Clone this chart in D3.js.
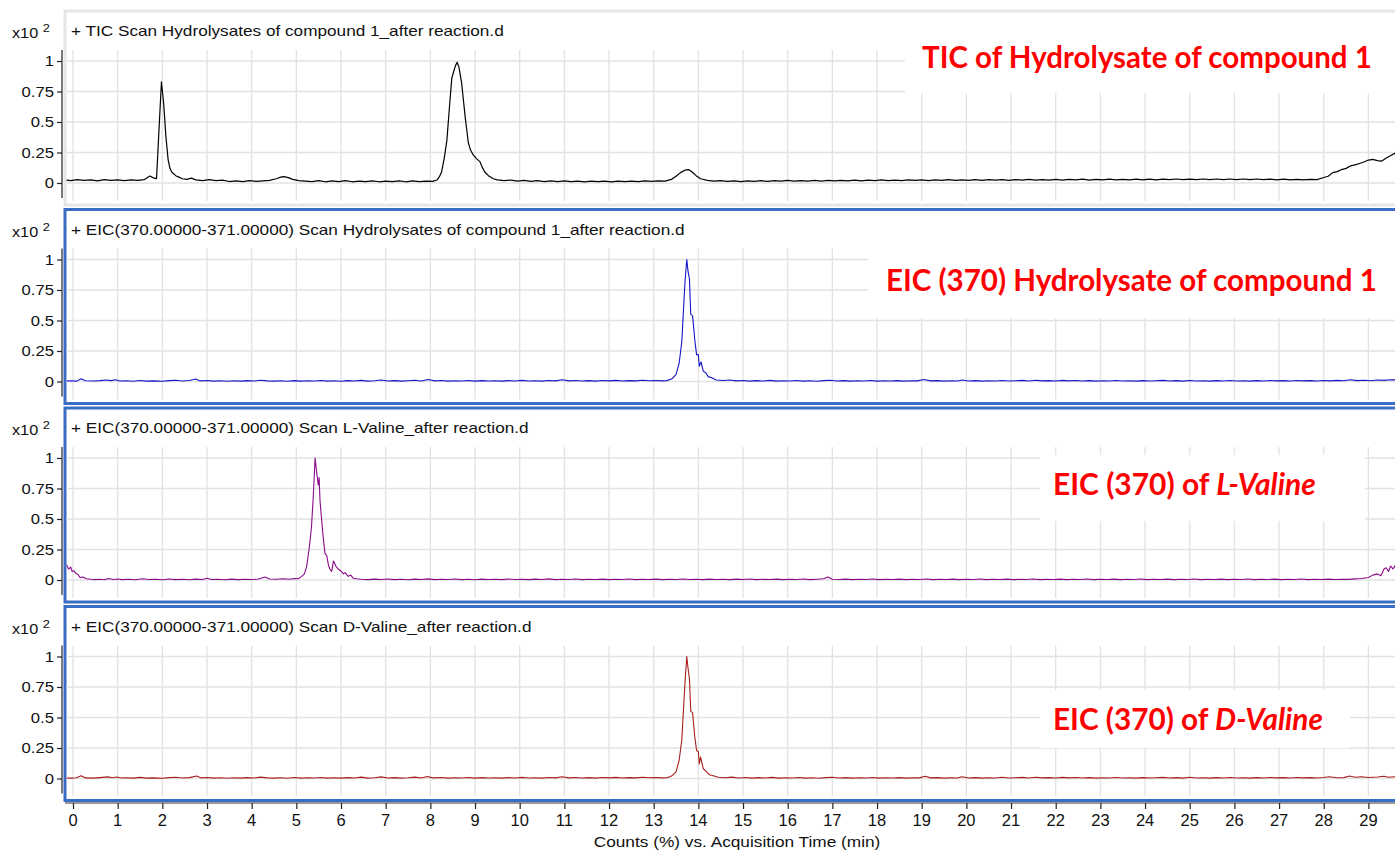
<!DOCTYPE html>
<html><head><meta charset="utf-8">
<script src="https://cdn.jsdelivr.net/npm/d3@7"></script>
<style>body{margin:0;background:#fff}svg{display:block}</style>
</head><body><svg id="c" width="1395" height="852"></svg>
<script>
const panelTitles = [
  "+ TIC Scan Hydrolysates of compound 1_after reaction.d",
  "+ EIC(370.00000-371.00000) Scan Hydrolysates of compound 1_after reaction.d",
  "+ EIC(370.00000-371.00000) Scan L-Valine_after reaction.d",
  "+ EIC(370.00000-371.00000) Scan D-Valine_after reaction.d"
];
const annotationMain = ["TIC of Hydrolysate of compound 1", "EIC (370) Hydrolysate of compound 1", "EIC (370) of ", "EIC (370) of "];
const annotationItalic = ["", "", "L-Valine", "D-Valine"];
const seriesColors = ["#000000", "#1414c8", "#8a0a8a", "#a81c1c"];
const xTickValues = [0,1,2,3,4,5,6,7,8,9,10,11,12,13,14,15,16,17,18,19,20,21,22,23,24,25,26,27,28,29];
const yTickValues = [0, 0.25, 0.5, 0.75, 1];
const yTickLabels = ["0", "0.25", "0.5", "0.75", "1"];
const xAxisTitle = "Counts (%) vs. Acquisition Time (min)";
const yScaleLabel = "x10";
const yScaleExp = "2";

const ticSeries = [[-0.18,0.024],[-0.05,0.02],[0.1,0.027],[0.25,0.021],[0.4,0.026],[0.55,0.018],[0.7,0.027],[0.85,0.022],[1.0,0.026],[1.15,0.019],[1.3,0.025],[1.45,0.021],[1.6,0.028],[1.72,0.057],[1.8,0.042],[1.87,0.036],[1.92,0.4],[1.98,0.83],[2.03,0.65],[2.08,0.38],[2.13,0.19],[2.17,0.12],[2.21,0.09],[2.3,0.06],[2.37,0.048],[2.45,0.035],[2.55,0.03],[2.65,0.04],[2.75,0.026],[2.9,0.02],[3.05,0.028],[3.2,0.02],[3.35,0.024],[3.5,0.012],[3.65,0.018],[3.8,0.011],[3.95,0.019],[4.1,0.013],[4.25,0.018],[4.4,0.022],[4.55,0.035],[4.65,0.048],[4.72,0.052],[4.82,0.044],[4.92,0.03],[5.05,0.02],[5.2,0.016],[5.35,0.012],[5.5,0.019],[5.65,0.01],[5.8,0.017],[5.95,0.011],[6.1,0.019],[6.25,0.01],[6.4,0.016],[6.55,0.011],[6.7,0.018],[6.85,0.01],[7.0,0.016],[7.15,0.011],[7.3,0.018],[7.45,0.01],[7.6,0.017],[7.75,0.011],[7.9,0.016],[8.05,0.013],[8.15,0.025],[8.2,0.05],[8.25,0.09],[8.31,0.2],[8.37,0.35],[8.44,0.68],[8.48,0.86],[8.52,0.91],[8.56,0.96],[8.6,0.99],[8.64,0.95],[8.7,0.82],[8.74,0.68],[8.78,0.54],[8.82,0.42],[8.85,0.33],[8.9,0.27],[8.96,0.23],[9.03,0.2],[9.11,0.175],[9.16,0.13],[9.22,0.09],[9.3,0.06],[9.41,0.035],[9.5,0.026],[9.65,0.02],[9.8,0.024],[9.95,0.016],[10.1,0.021],[10.25,0.013],[10.4,0.019],[10.55,0.012],[10.7,0.018],[10.85,0.011],[11.0,0.017],[11.15,0.012],[11.3,0.016],[11.45,0.01],[11.6,0.015],[11.75,0.011],[11.9,0.016],[12.05,0.01],[12.2,0.015],[12.35,0.011],[12.5,0.016],[12.65,0.012],[12.8,0.017],[12.95,0.013],[13.1,0.018],[13.25,0.015],[13.4,0.03],[13.5,0.055],[13.6,0.085],[13.7,0.105],[13.78,0.11],[13.86,0.09],[13.95,0.06],[14.05,0.035],[14.2,0.022],[14.35,0.016],[14.5,0.02],[14.65,0.013],[14.8,0.018],[14.95,0.012],[15.1,0.017],[15.25,0.013],[15.4,0.019],[15.55,0.014],[15.7,0.02],[15.85,0.015],[16.0,0.021],[16.15,0.016],[16.3,0.02],[16.45,0.015],[16.6,0.021],[16.75,0.016],[16.9,0.022],[17.05,0.017],[17.2,0.022],[17.35,0.018],[17.5,0.023],[17.65,0.018],[17.8,0.024],[17.95,0.019],[18.1,0.025],[18.25,0.019],[18.4,0.024],[18.55,0.02],[18.7,0.026],[18.85,0.021],[19.0,0.025],[19.15,0.02],[19.3,0.026],[19.45,0.021],[19.6,0.027],[19.75,0.021],[19.9,0.026],[20.05,0.022],[20.2,0.027],[20.35,0.021],[20.5,0.027],[20.65,0.023],[20.8,0.028],[20.95,0.022],[21.1,0.028],[21.25,0.023],[21.4,0.029],[21.55,0.023],[21.7,0.028],[21.85,0.024],[22.0,0.03],[22.15,0.024],[22.3,0.029],[22.45,0.025],[22.6,0.031],[22.75,0.024],[22.9,0.03],[23.05,0.026],[23.2,0.031],[23.35,0.025],[23.5,0.03],[23.65,0.026],[23.8,0.032],[23.95,0.026],[24.1,0.031],[24.25,0.026],[24.4,0.032],[24.55,0.027],[24.7,0.033],[24.85,0.027],[25.0,0.032],[25.15,0.027],[25.3,0.033],[25.45,0.028],[25.6,0.033],[25.75,0.027],[25.9,0.033],[26.05,0.028],[26.2,0.033],[26.35,0.027],[26.5,0.033],[26.65,0.028],[26.8,0.032],[26.95,0.026],[27.1,0.031],[27.25,0.026],[27.4,0.03],[27.55,0.025],[27.7,0.03],[27.85,0.028],[28.0,0.045],[28.1,0.055],[28.2,0.085],[28.3,0.093],[28.4,0.11],[28.5,0.12],[28.6,0.14],[28.7,0.148],[28.8,0.16],[28.9,0.172],[29.0,0.188],[29.1,0.194],[29.2,0.183],[29.3,0.18],[29.4,0.205],[29.5,0.225],[29.6,0.245]];

const eicHydSeries = [[-0.18,0.004],[-0.05,0.006],[0.08,0.003],[0.18,0.022],[0.28,0.006],[0.45,0.004],[0.6,0.007],[0.75,0.012],[0.85,0.007],[0.95,0.014],[1.05,0.004],[1.2,0.006],[1.35,0.002],[1.5,0.008],[1.65,0.003],[1.8,0.005],[2.0,0.002],[2.15,0.007],[2.3,0.01],[2.45,0.004],[2.6,0.008],[2.75,0.02],[2.85,0.005],[3.0,0.008],[3.15,0.003],[3.3,0.006],[3.45,0.002],[3.6,0.006],[3.75,0.003],[3.9,0.007],[4.05,0.004],[4.2,0.01],[4.35,0.005],[4.5,0.003],[4.65,0.006],[4.8,0.002],[4.95,0.007],[5.1,0.003],[5.25,0.006],[5.4,0.004],[5.55,0.008],[5.7,0.003],[5.85,0.006],[6.0,0.002],[6.15,0.007],[6.3,0.004],[6.45,0.009],[6.6,0.003],[6.75,0.006],[6.9,0.012],[7.05,0.004],[7.2,0.007],[7.35,0.003],[7.5,0.006],[7.65,0.01],[7.8,0.004],[7.95,0.016],[8.1,0.005],[8.25,0.008],[8.4,0.003],[8.55,0.006],[8.7,0.004],[8.85,0.008],[9.0,0.003],[9.15,0.007],[9.3,0.004],[9.45,0.006],[9.6,0.003],[9.75,0.007],[9.9,0.004],[10.05,0.009],[10.2,0.004],[10.35,0.006],[10.5,0.003],[10.65,0.008],[10.8,0.005],[10.95,0.015],[11.1,0.005],[11.25,0.008],[11.4,0.004],[11.55,0.007],[11.7,0.003],[11.85,0.008],[12.0,0.005],[12.15,0.009],[12.3,0.004],[12.45,0.007],[12.6,0.005],[12.75,0.01],[12.9,0.006],[13.05,0.008],[13.2,0.005],[13.29,0.007],[13.4,0.02],[13.5,0.057],[13.57,0.15],[13.63,0.33],[13.66,0.54],[13.7,0.81],[13.74,1.0],[13.77,0.9],[13.8,0.84],[13.83,0.55],[13.87,0.54],[13.92,0.34],[13.96,0.22],[14.0,0.22],[14.02,0.125],[14.06,0.16],[14.11,0.085],[14.17,0.07],[14.22,0.04],[14.3,0.03],[14.4,0.012],[14.55,0.008],[14.7,0.012],[14.85,0.005],[15.0,0.008],[15.15,0.003],[15.3,0.007],[15.45,0.004],[15.6,0.009],[15.75,0.003],[15.9,0.006],[16.05,0.004],[16.2,0.008],[16.35,0.003],[16.5,0.006],[16.65,0.002],[16.8,0.007],[16.95,0.01],[17.1,0.004],[17.25,0.007],[17.4,0.003],[17.55,0.006],[17.7,0.004],[17.85,0.008],[18.0,0.003],[18.15,0.006],[18.3,0.004],[18.45,0.007],[18.6,0.003],[18.75,0.006],[18.9,0.005],[19.05,0.016],[19.2,0.005],[19.35,0.007],[19.5,0.003],[19.65,0.006],[19.8,0.004],[19.9,0.012],[20.05,0.004],[20.2,0.007],[20.35,0.003],[20.5,0.006],[20.65,0.004],[20.8,0.008],[20.95,0.004],[21.1,0.006],[21.25,0.009],[21.4,0.004],[21.55,0.01],[21.7,0.005],[21.85,0.007],[22.0,0.004],[22.15,0.009],[22.3,0.005],[22.45,0.008],[22.6,0.004],[22.75,0.007],[22.9,0.003],[23.05,0.006],[23.2,0.004],[23.35,0.008],[23.5,0.004],[23.65,0.006],[23.8,0.003],[23.95,0.007],[24.1,0.004],[24.25,0.006],[24.4,0.009],[24.55,0.004],[24.7,0.007],[24.85,0.003],[25.0,0.008],[25.15,0.004],[25.3,0.006],[25.45,0.003],[25.6,0.007],[25.75,0.004],[25.9,0.008],[26.05,0.004],[26.2,0.006],[26.35,0.003],[26.5,0.007],[26.65,0.004],[26.8,0.008],[26.95,0.005],[27.1,0.007],[27.25,0.004],[27.4,0.008],[27.55,0.005],[27.7,0.007],[27.85,0.004],[28.0,0.008],[28.15,0.005],[28.3,0.009],[28.45,0.006],[28.6,0.015],[28.75,0.007],[28.9,0.01],[29.05,0.006],[29.2,0.012],[29.35,0.009],[29.5,0.014],[29.6,0.013]];

const eicLValSeries = [[-0.15,0.13],[-0.1,0.09],[-0.05,0.105],[-0.02,0.07],[0.02,0.075],[0.06,0.055],[0.11,0.045],[0.16,0.02],[0.22,0.025],[0.3,0.01],[0.4,0.006],[0.5,0.003],[0.6,0.006],[0.7,0.002],[0.8,0.012],[0.9,0.004],[1.0,0.008],[1.1,0.003],[1.25,0.006],[1.4,0.002],[1.55,0.01],[1.7,0.004],[1.85,0.006],[2.0,0.002],[2.15,0.008],[2.3,0.003],[2.45,0.006],[2.6,0.002],[2.75,0.007],[2.9,0.004],[3.0,0.014],[3.1,0.004],[3.25,0.006],[3.4,0.002],[3.55,0.007],[3.7,0.003],[3.85,0.006],[4.0,0.004],[4.15,0.008],[4.3,0.025],[4.4,0.008],[4.55,0.006],[4.7,0.01],[4.85,0.006],[4.95,0.012],[5.04,0.01],[5.12,0.03],[5.18,0.05],[5.23,0.11],[5.28,0.24],[5.31,0.33],[5.34,0.44],[5.38,0.69],[5.42,1.0],[5.45,0.9],[5.47,0.84],[5.49,0.78],[5.51,0.84],[5.53,0.65],[5.59,0.39],[5.64,0.22],[5.68,0.2],[5.72,0.12],[5.75,0.09],[5.79,0.07],[5.83,0.155],[5.89,0.11],[5.94,0.09],[6.01,0.07],[6.05,0.05],[6.09,0.06],[6.16,0.03],[6.22,0.04],[6.27,0.015],[6.35,0.01],[6.45,0.006],[6.6,0.003],[6.75,0.007],[6.9,0.004],[7.05,0.008],[7.2,0.003],[7.35,0.006],[7.5,0.002],[7.65,0.007],[7.8,0.004],[7.95,0.009],[8.1,0.003],[8.25,0.006],[8.4,0.004],[8.55,0.008],[8.7,0.003],[8.85,0.006],[9.0,0.002],[9.15,0.007],[9.3,0.004],[9.45,0.006],[9.6,0.003],[9.75,0.008],[9.9,0.004],[10.05,0.006],[10.2,0.003],[10.35,0.007],[10.5,0.004],[10.65,0.009],[10.8,0.003],[10.95,0.006],[11.1,0.004],[11.25,0.008],[11.4,0.003],[11.55,0.006],[11.7,0.004],[11.85,0.007],[12.0,0.003],[12.15,0.006],[12.3,0.004],[12.45,0.008],[12.6,0.003],[12.75,0.006],[12.9,0.004],[13.05,0.007],[13.2,0.003],[13.35,0.006],[13.5,0.004],[13.65,0.008],[13.8,0.004],[13.95,0.006],[14.1,0.003],[14.25,0.007],[14.4,0.004],[14.55,0.006],[14.7,0.003],[14.85,0.007],[15.0,0.004],[15.15,0.008],[15.3,0.003],[15.45,0.006],[15.6,0.004],[15.75,0.007],[15.9,0.003],[16.05,0.006],[16.2,0.004],[16.35,0.008],[16.5,0.003],[16.65,0.006],[16.8,0.01],[16.9,0.025],[17.0,0.006],[17.15,0.004],[17.3,0.007],[17.45,0.003],[17.6,0.006],[17.75,0.004],[17.9,0.008],[18.05,0.003],[18.2,0.006],[18.35,0.004],[18.5,0.007],[18.65,0.003],[18.8,0.006],[18.95,0.004],[19.1,0.008],[19.25,0.003],[19.4,0.006],[19.55,0.004],[19.7,0.007],[19.85,0.003],[20.0,0.006],[20.15,0.004],[20.3,0.008],[20.45,0.003],[20.6,0.006],[20.75,0.004],[20.9,0.007],[21.05,0.003],[21.2,0.006],[21.35,0.004],[21.5,0.008],[21.65,0.003],[21.8,0.006],[21.95,0.004],[22.1,0.007],[22.25,0.003],[22.4,0.006],[22.55,0.004],[22.7,0.008],[22.85,0.003],[23.0,0.006],[23.15,0.004],[23.3,0.007],[23.45,0.003],[23.6,0.006],[23.75,0.004],[23.9,0.008],[24.05,0.003],[24.2,0.006],[24.35,0.004],[24.5,0.007],[24.65,0.003],[24.8,0.006],[24.95,0.004],[25.1,0.008],[25.25,0.003],[25.4,0.006],[25.55,0.004],[25.7,0.007],[25.85,0.003],[26.0,0.006],[26.15,0.004],[26.3,0.008],[26.45,0.003],[26.6,0.006],[26.75,0.004],[26.9,0.007],[27.05,0.003],[27.2,0.006],[27.35,0.004],[27.5,0.008],[27.65,0.003],[27.8,0.006],[27.95,0.004],[28.1,0.007],[28.25,0.004],[28.4,0.006],[28.55,0.005],[28.7,0.009],[28.85,0.012],[29.0,0.02],[29.1,0.04],[29.2,0.05],[29.28,0.035],[29.35,0.09],[29.4,0.1],[29.45,0.07],[29.5,0.115],[29.55,0.09],[29.6,0.12]];

const eicDValSeries = [[-0.18,0.005],[-0.05,0.003],[0.08,0.006],[0.18,0.022],[0.28,0.005],[0.45,0.003],[0.6,0.007],[0.78,0.013],[0.88,0.006],[0.98,0.012],[1.08,0.004],[1.2,0.006],[1.35,0.003],[1.5,0.009],[1.65,0.003],[1.8,0.005],[2.0,0.002],[2.15,0.007],[2.3,0.01],[2.45,0.004],[2.6,0.007],[2.77,0.02],[2.87,0.005],[3.0,0.008],[3.15,0.003],[3.3,0.006],[3.45,0.002],[3.6,0.006],[3.75,0.003],[3.9,0.007],[4.05,0.004],[4.2,0.011],[4.35,0.005],[4.5,0.003],[4.65,0.006],[4.8,0.002],[4.95,0.008],[5.1,0.003],[5.25,0.006],[5.4,0.004],[5.55,0.008],[5.7,0.003],[5.85,0.006],[6.0,0.003],[6.15,0.007],[6.3,0.004],[6.45,0.011],[6.6,0.003],[6.75,0.006],[6.9,0.013],[7.05,0.004],[7.2,0.007],[7.35,0.003],[7.5,0.006],[7.65,0.011],[7.8,0.004],[7.93,0.017],[8.05,0.005],[8.25,0.008],[8.4,0.003],[8.55,0.006],[8.7,0.004],[8.85,0.008],[9.0,0.003],[9.15,0.007],[9.3,0.004],[9.45,0.006],[9.6,0.003],[9.75,0.007],[9.9,0.004],[10.05,0.009],[10.2,0.004],[10.35,0.006],[10.5,0.003],[10.65,0.008],[10.8,0.005],[10.95,0.015],[11.1,0.005],[11.25,0.008],[11.4,0.004],[11.55,0.007],[11.7,0.003],[11.85,0.008],[12.0,0.005],[12.15,0.009],[12.3,0.004],[12.45,0.007],[12.6,0.005],[12.75,0.01],[12.9,0.006],[13.05,0.008],[13.2,0.005],[13.3,0.006],[13.4,0.02],[13.5,0.055],[13.57,0.15],[13.63,0.32],[13.66,0.52],[13.7,0.78],[13.74,1.0],[13.77,0.9],[13.8,0.82],[13.83,0.55],[13.87,0.54],[13.92,0.34],[13.96,0.23],[14.0,0.22],[14.02,0.12],[14.05,0.175],[14.11,0.08],[14.17,0.06],[14.25,0.03],[14.35,0.02],[14.45,0.01],[14.6,0.006],[14.75,0.011],[14.9,0.004],[15.05,0.008],[15.2,0.003],[15.35,0.007],[15.5,0.004],[15.65,0.009],[15.8,0.003],[15.95,0.006],[16.1,0.004],[16.25,0.008],[16.4,0.003],[16.55,0.006],[16.7,0.002],[16.85,0.007],[17.0,0.01],[17.15,0.004],[17.3,0.007],[17.45,0.003],[17.6,0.006],[17.75,0.004],[17.9,0.008],[18.05,0.003],[18.2,0.006],[18.35,0.004],[18.5,0.007],[18.65,0.003],[18.8,0.006],[18.95,0.005],[19.08,0.018],[19.2,0.005],[19.35,0.007],[19.5,0.003],[19.65,0.006],[19.8,0.004],[19.9,0.015],[20.05,0.004],[20.2,0.007],[20.35,0.003],[20.5,0.006],[20.65,0.004],[20.8,0.01],[20.95,0.004],[21.1,0.006],[21.25,0.009],[21.4,0.004],[21.55,0.01],[21.7,0.005],[21.85,0.007],[22.0,0.004],[22.15,0.009],[22.3,0.005],[22.45,0.008],[22.6,0.004],[22.75,0.007],[22.9,0.003],[23.05,0.006],[23.2,0.004],[23.35,0.008],[23.5,0.004],[23.65,0.006],[23.8,0.003],[23.95,0.007],[24.1,0.004],[24.25,0.006],[24.4,0.009],[24.55,0.004],[24.7,0.007],[24.85,0.003],[25.0,0.01],[25.15,0.004],[25.3,0.006],[25.45,0.003],[25.6,0.007],[25.75,0.004],[25.9,0.008],[26.05,0.004],[26.2,0.006],[26.35,0.003],[26.5,0.007],[26.65,0.004],[26.8,0.008],[26.95,0.005],[27.1,0.007],[27.25,0.004],[27.4,0.008],[27.55,0.005],[27.7,0.007],[27.85,0.004],[28.0,0.008],[28.12,0.014],[28.3,0.006],[28.45,0.007],[28.58,0.02],[28.7,0.01],[28.85,0.014],[29.0,0.008],[29.2,0.012],[29.35,0.018],[29.45,0.01],[29.6,0.014]];

const allSeries = [ticSeries, eicHydSeries, eicLValSeries, eicDValSeries];

const svg = d3.select("#c");
const AXFONT = '"Liberation Sans", Arial, sans-serif';
const LABFONT = 'Lato, "Open Sans", sans-serif';
const FL = 65, FR = 1405, W = 1395;
const x = d3.scaleLinear().domain([0, 29]).range([73, 1368.4]);

function fit(sel, target) {
  return target / sel.node().getComputedTextLength();
}

const annotationTargets = [[922, 1372, 68], [886, 1377, 291], [1053, 1316, 495], [1053, 1323, 730]];
const annotationBoxes = [[905, 38, 490, 55], [868, 244, 527, 74], [1040, 455, 325, 66], [1040, 690, 310, 58]];

let headerScale = 1;
for (let i = 0; i < 4; i++) {
  const t1 = 61 + i * 198.5, t0 = t1 + 122;
  const y = d3.scaleLinear().domain([0, 1]).range([t0, t1]);
  const g = svg.append("g");
  const plotTop = t1 - 11, plotBot = t0 + 18;
  g.append("rect").attr("x", FL).attr("y", t1 - 50).attr("width", FR - FL).attr("height", 194)
    .attr("fill", "#fff").attr("stroke", i === 0 ? "#e6e6e6" : "#3a6ec6").attr("stroke-width", 3);
  g.append("g").selectAll("line").data(xTickValues).join("line")
    .attr("x1", d => x(d)).attr("x2", d => x(d)).attr("y1", plotTop).attr("y2", plotBot)
    .attr("stroke", "#e2e2e2").attr("stroke-width", 1.3);
  g.append("g").selectAll("line").data(yTickValues).join("line")
    .attr("x1", FL + 1.5).attr("x2", W).attr("y1", d => y(d)).attr("y2", d => y(d))
    .attr("stroke", "#e2e2e2").attr("stroke-width", 1.3);
  const b = annotationBoxes[i];
  g.append("rect").attr("x", b[0]).attr("y", b[1]).attr("width", b[2]).attr("height", b[3]).attr("fill", "#fff");
  svg.append("clipPath").attr("id", "clip" + i).append("rect")
    .attr("x", FL + 1.5).attr("y", t1 - 48).attr("width", W - FL).attr("height", 190);
  const line = d3.line().x(d => x(d[0])).y(d => y(d[1]));
  g.append("path").datum(allSeries[i]).attr("d", line).attr("fill", "none")
    .attr("stroke", seriesColors[i]).attr("stroke-width", i === 0 ? 1.2 : 1.1)
    .attr("stroke-linejoin", "round").attr("clip-path", "url(#clip" + i + ")");
  const ya = d3.axisLeft(y).tickValues(yTickValues).tickSize(5).tickFormat(() => "");
  const yg = g.append("g").attr("transform", "translate(62,0)").call(ya);
  yg.select(".domain").attr("d", `M0,${plotTop}V${t0 + 15}`).attr("stroke", "#222").attr("stroke-width", 1.2);
  yg.selectAll(".tick line").attr("stroke", "#222").attr("stroke-width", 1.2);
  yTickValues.forEach((v, k) => {
    g.append("text").attr("transform", `translate(54,${y(v) + 5}) scale(1.15,1)`)
      .style("font-family", AXFONT).attr("text-anchor", "end").attr("font-size", 14.5).attr("fill", "#111").text(yTickLabels[k]);
  });
  const xs = g.append("text").attr("transform", `translate(12,${t1 - 23}) scale(1.12,1)`)
    .style("font-family", AXFONT).attr("font-size", 14.5).attr("fill", "#111");
  xs.append("tspan").text(yScaleLabel);
  xs.append("tspan").attr("dx", 4).attr("dy", -6).attr("font-size", 11.5).text(yScaleExp);
  const h = g.append("text").style("font-family", AXFONT).attr("font-size", 14.5).attr("fill", "#111").text(panelTitles[i]);
  if (i === 0) headerScale = fit(h, 433);
  h.attr("transform", `translate(71,${t1 - 25}) scale(${headerScale},1)`);
  const at = annotationTargets[i];
  const a = g.append("text").style("font-family", LABFONT).attr("font-weight", "bold")
    .attr("font-size", 30).attr("fill", "#ff0000");
  a.append("tspan").text(annotationMain[i]);
  if (annotationItalic[i]) a.append("tspan").attr("font-style", "italic").text(annotationItalic[i]);
  const s = fit(a, at[1] - at[0]);
  a.attr("transform", `translate(${at[0]},${at[2]}) scale(${s},1)`);
}

const xa = d3.axisBottom(x).tickValues(xTickValues).tickSize(6).tickFormat(() => "");
const xg = svg.append("g").attr("transform", "translate(0,803)").call(xa);
xg.select(".domain").attr("d", `M${FL},0H${W}`).attr("stroke", "#333").attr("stroke-width", 1.2);
xg.selectAll(".tick line").attr("stroke", "#222").attr("stroke-width", 1.2);
xTickValues.forEach(v => {
  svg.append("text").attr("x", x(v)).attr("y", 826).attr("text-anchor", "middle")
    .style("font-family", AXFONT).attr("font-size", 16.5).attr("fill", "#111").text(String(v));
});
const xt = svg.append("text").style("font-family", AXFONT).attr("font-size", 15).attr("fill", "#111").attr("text-anchor", "middle").text(xAxisTitle);
const xts = fit(xt, 287);
xt.attr("transform", `translate(737,847) scale(${xts},1)`);
</script></body></html>
